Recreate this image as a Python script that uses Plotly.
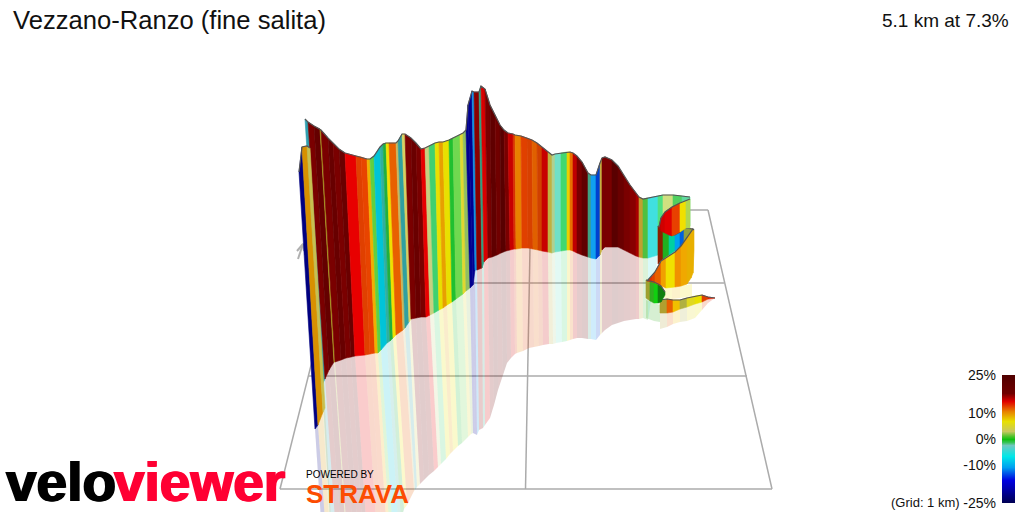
import plotly.graph_objects as go

TITULO = "Vezzano-Ranzo (fine salita)"
RESUMO = "5.1 km at 7.3%"
FONTE = "Liberation Sans"

# parede principal: borda de cada faixa (topo, base, limite do reflexo)
parede_topo_x = [305, 308, 314, 320, 321, 328, 333, 339, 345, 356, 361, 367, 370, 374, 380, 383, 386, 389, 396, 398,
                 402, 405, 411, 416, 421, 425, 429, 435, 439, 443, 449, 453, 460, 463, 466, 468, 472, 474, 479, 481,
                 485, 490, 495, 500, 504, 508, 513, 515, 521, 527, 532, 537, 542, 548, 552, 555, 561, 567, 570, 573,
                 577, 582, 588, 591, 596, 600, 602, 605, 612, 618, 624, 630, 636, 639, 643, 648, 658, 663, 673, 682, 690]
parede_topo_y = [119, 122, 126, 129, 130, 138, 143, 149, 153, 156, 157, 159, 159, 156, 147, 144, 143, 143, 143, 141,
                 134, 134, 138, 143, 149, 148, 146, 143, 142, 142, 140, 138, 135, 133, 130, 105, 91, 92, 92, 86,
                 89, 105, 115, 125, 130, 133, 134, 135, 136, 138, 140, 143, 147, 152, 155, 154, 153, 152, 152, 153,
                 156, 162, 173, 175, 175, 163, 158, 157, 160, 166, 176, 185, 193, 197, 199, 198, 196, 195, 195, 196, 197]
parede_base_x = [322, 325, 329, 334, 335, 341, 346, 351, 355, 365, 370, 375, 378, 381, 387, 390, 393, 396, 403, 405,
                 409, 411, 416, 421, 426, 430, 434, 439, 443, 447, 452, 456, 463, 466, 470, 473, 475, 477, 482, 484,
                 488, 492, 497, 501, 506, 510, 514, 516, 522, 528, 533, 538, 542, 548, 552, 555, 561, 567, 570, 573,
                 577, 582, 588, 591, 596, 600, 602, 605, 612, 618, 624, 630, 636, 639, 643, 648, 658, 663, 673, 682, 690]
parede_base_y = [385, 379, 370, 362, 362, 360, 358, 357, 356, 355, 354, 353, 353, 350, 343, 341, 338, 335, 330, 328,
                 322, 319, 318, 317, 317, 315, 313, 310, 308, 305, 302, 299, 294, 291, 288, 285, 270, 270, 268, 262,
                 258, 257, 255, 253, 251, 250, 249, 249, 248, 248, 249, 250, 251, 252, 253, 252, 251, 250, 250, 251,
                 253, 255, 257, 258, 259, 255, 250, 247, 247, 247, 250, 253, 256, 257, 258, 258, 255, 250, 235, 230, 226]
reflexo_x = [330, 335, 340, 345, 346, 352, 357, 362, 366, 376, 381, 386, 389, 392, 398, 401, 404, 407, 414, 415,
             417, 420, 424, 429, 434, 438, 441, 446, 450, 453, 458, 462, 468, 471, 473, 475, 477, 479, 483, 485,
             490, 494, 498, 503, 507, 511, 515, 517, 523, 529, 534, 539, 543, 549, 553, 556, 562, 567, 570, 573,
             577, 582, 588, 591, 596, 600, 602, 605, 612, 618, 624, 630, 636, 639, 643, 648, 658, 663, 673, 682, 690]
reflexo_y = [520, 520, 520, 520, 520, 520, 520, 520, 520, 520, 520, 520, 520, 520, 520, 520, 509, 505, 491, 490,
             487, 484, 480, 475, 471, 467, 464, 459, 454, 451, 446, 443, 437, 434, 433, 434, 435, 430, 428, 425,
             418, 405, 390, 375, 363, 358, 354, 353, 351, 348, 347, 346, 345, 344, 344, 343, 342, 341, 340, 339,
             338, 338, 339, 339, 340, 335, 333, 330, 325, 323, 321, 320, 319, 319, 318, 320, 255, 250, 235, 230, 226]
parede_cores = ["#30a0b0", "#7a0000", "#650000", "#b0a820", "#7a0000", "#680000", "#7a0000", "#6a0000", "#e80000", "#e04000",
                "#e84400", "#f0b000", "#60d040", "#00c4d8", "#30b0a0", "#20b040", "#f0e000", "#e86000", "#c8b860", "#30a0a0",
                "#d8d060", "#7a0000", "#6a0000", "#7a0000", "#e80000", "#c8d080", "#40d070", "#e8e000", "#e8a000", "#e8e000",
                "#20c030", "#70d850", "#e0d830", "#90c060", "#000090", "#000090", "#1090e0", "#8a0000", "#30a080", "#d80000",
                "#7a0000", "#600000", "#700000", "#580000", "#7a0000", "#c80000", "#d83000", "#e88000", "#e04000", "#d84000",
                "#e06000", "#d04000", "#c80000", "#c0b040", "#b0d090", "#70e0c8", "#40d870", "#e8d000", "#e87000", "#c00000",
                "#7a0000", "#600000", "#40a080", "#10a0f0", "#0040d0", "#c8b040", "#7a0000", "#7a0000", "#5a0000", "#6a0000",
                "#7a0000", "#880000", "#a80000", "#c0a030", "#50c040", "#40e0e0", "#50e080", "#d0e080", "#50d060", "#60d8a0"]

# dobra da frente, lado esquerdo
dobra_topo_x = [299, 302, 307, 310]
dobra_topo_y = [172, 147, 146, 148]
dobra_base_x = [315, 318, 323, 325]
dobra_base_y = [429, 425, 412, 408]
dobra_reflexo_x = [321, 325, 329, 331]
dobra_reflexo_y = [520, 520, 520, 520]
dobra_cores = ["#000080", "#d89000", "#c8c050"]

# curva final: painel, faixa do meio, fita amarela, laco verde e cauda
painel_x = [659, 661, 665, 672, 680, 686, 690]
painel_topo = [227, 218, 212, 207, 203, 201, 199]
painel_base = [227, 231, 233, 236, 232, 228, 228]
painel_cores = ["#c00000", "#d00000", "#e00000", "#e84000", "#f0e000", "#b0d850"]

faixa_x = [658, 663, 669, 675, 680, 684, 693]
faixa_topo = [226, 231, 235, 235, 232, 228, 229]
faixa_base = [264, 259, 255, 251, 247, 243, 232]
faixa_cores = ["#8a2000", "#20b020", "#00d0a0", "#00a0f0", "#0060e0", "#90a040"]

fita_x = [647, 652, 655, 661, 666, 675, 681, 687, 691, 693, 694]
fita_topo = [281, 276, 272, 261, 258, 252, 246, 238, 232, 229, 230]
fita_base = [281, 282, 283, 286, 288, 287, 286, 284, 278, 273, 250]
fita_cores = ["#e03000", "#e04000", "#e86000", "#f0a000", "#f0e000", "#f09000", "#f0a800", "#e8b000", "#e8b000", "#e8b000"]

laco_x = [646, 650, 654, 658, 661, 665]
laco_topo = [280, 281, 282, 284, 286, 292]
laco_base = [298, 301, 303, 303, 302, 295]
laco_cores = ["#a0a030", "#30b020", "#10d010", "#108010", "#108010"]

cauda_x = [660, 667, 673, 680, 687, 695, 702, 708, 715]
cauda_topo = [300, 299, 300, 300, 298, 296, 295, 297, 298]
cauda_base = [313, 313, 312, 309, 307, 304, 302, 299, 298]
cauda_cores = ["#b0a030", "#e86000", "#f0c000", "#b0b040", "#e0d820", "#e8e000", "#e04000", "#e02000"]

laco_reflexo_x = [646, 654, 660]
laco_reflexo_topo = [300, 303, 305]
laco_reflexo_base = [318, 321, 322]
laco_reflexo_cores = ["#30b020", "#30b020"]

cauda_reflexo_base = [329, 327, 324, 322, 321, 318, 310, 303, 298]

fita_reflexo_x = [664, 672, 680, 692]
fita_reflexo_topo = [288, 287, 286, 284]
fita_reflexo_base = [298, 299, 298, 296]
fita_reflexo_cores = ["#f0e000", "#f0c000", "#f0e000"]

# grade do piso e seta norte
grade_linhas = [
    ([280, 772], [489, 489]),
    ([772, 708], [489, 210]),
    ([708, 688], [210, 210]),
    ([280, 340], [489, 250]),
    ([308, 747], [376, 376]),
    ([473, 724], [283, 283]),
    ([525.5, 530], [489, 248]),
]
seta_x = [297, 303, 304]
seta_y = [251, 244, 251]
haste_x = [303, 298]
haste_y = [244, 259]

# legenda de inclinacao
legenda_valores = [-25, -22, -19, -16, -13, -11, -9, -6.5, -4, -2.5, -1, 0, 1, 3, 5, 7, 9, 11, 13, 15, 18, 21, 25]
legenda_escala = [
    [0.00, "#000050"], [0.18, "#0000e0"], [0.28, "#00a0f0"], [0.37, "#00e8e8"],
    [0.45, "#70c8c0"], [0.50, "#10c010"], [0.56, "#c8c860"], [0.64, "#e8e000"],
    [0.72, "#e88000"], [0.80, "#e00000"], [0.86, "#700000"], [1.00, "#500000"],
]
legenda_ticks = [25, 10, 0, -10, -25]
legenda_rotulos = ["25%", "10%", "0%", "-10%", "-25%"]


def _rgba(cor: str, alfa: float) -> str:
    """Converte #rrggbb em rgba com a transparencia pedida."""
    r, g, b = int(cor[1:3], 16), int(cor[3:5], 16), int(cor[5:7], 16)
    return f"rgba({r},{g},{b},{alfa})"


def adicionar_faixas(fig, x_a, y_a, x_b, y_b, cores, alfa=None):
    """Desenha uma faixa preenchida entre cada par de bordas."""
    for i, cor in enumerate(cores):
        if y_a[i] == y_b[i] and y_a[i + 1] == y_b[i + 1]:
            continue
        preenchimento = cor if alfa is None else _rgba(cor, alfa)
        fig.add_trace(
            go.Scatter(
                x=[x_a[i], x_a[i + 1], x_b[i + 1], x_b[i], x_a[i]],
                y=[y_a[i], y_a[i + 1], y_b[i + 1], y_b[i], y_a[i]],
                mode="lines",
                fill="toself",
                fillcolor=preenchimento,
                line={"color": preenchimento, "width": 0.6 if alfa is None else 0},
                hoverinfo="skip",
            )
        )


def adicionar_contorno(fig, x, y):
    """Linha escura na borda superior da fita."""
    fig.add_trace(
        go.Scatter(x=x, y=y, mode="lines", line={"color": "#555555", "width": 1.2}, hoverinfo="skip")
    )


def texto(fig, x, y, conteudo, tamanho, cor="#111111", ancora="left", negrito=False, sombra="none"):
    """Texto posicionado nas coordenadas do eixo principal."""
    fig.add_annotation(
        x=x, y=y, text=conteudo, showarrow=False, xanchor=ancora, yanchor="middle",
        xref="x", yref="y", borderpad=0,
        font={"family": FONTE, "size": tamanho, "color": cor, "weight": 700 if negrito else 400, "shadow": sombra},
    )


fig = go.Figure()

for gx, gy in grade_linhas:
    fig.add_trace(go.Scatter(x=gx, y=gy, mode="lines", line={"color": "#ababab", "width": 1.5}, hoverinfo="skip"))
fig.add_trace(go.Scatter(x=seta_x, y=seta_y, mode="lines", line={"color": "#b0b0b0", "width": 2}, hoverinfo="skip"))
fig.add_trace(go.Scatter(x=haste_x, y=haste_y, mode="lines", line={"color": "#b0b0b0", "width": 2}, hoverinfo="skip"))

# reflexos primeiro, a grade aparece por baixo
adicionar_faixas(fig, parede_base_x, parede_base_y, reflexo_x, reflexo_y, parede_cores, 0.2)
adicionar_faixas(fig, dobra_base_x, dobra_base_y, dobra_reflexo_x, dobra_reflexo_y, dobra_cores, 0.2)
adicionar_faixas(fig, laco_reflexo_x, laco_reflexo_topo, laco_reflexo_x, laco_reflexo_base, laco_reflexo_cores, 0.2)
adicionar_faixas(fig, fita_reflexo_x, fita_reflexo_topo, fita_reflexo_x, fita_reflexo_base, fita_reflexo_cores, 0.2)
adicionar_faixas(fig, cauda_x, cauda_base, cauda_x, cauda_reflexo_base, cauda_cores, 0.2)

adicionar_faixas(fig, parede_topo_x, parede_topo_y, parede_base_x, parede_base_y, parede_cores)
adicionar_contorno(fig, parede_topo_x, parede_topo_y)
adicionar_faixas(fig, dobra_topo_x, dobra_topo_y, dobra_base_x, dobra_base_y, dobra_cores)
adicionar_contorno(fig, dobra_topo_x, dobra_topo_y)

adicionar_faixas(fig, cauda_x, cauda_topo, cauda_x, cauda_base, cauda_cores)
adicionar_contorno(fig, cauda_x, cauda_topo)
adicionar_faixas(fig, laco_x, laco_topo, laco_x, laco_base, laco_cores)
adicionar_faixas(fig, faixa_x, faixa_topo, faixa_x, faixa_base, faixa_cores)
adicionar_contorno(fig, faixa_x, faixa_topo)
adicionar_faixas(fig, painel_x, painel_topo, painel_x, painel_base, painel_cores)
adicionar_contorno(fig, painel_x, painel_topo)
adicionar_faixas(fig, fita_x, fita_topo, fita_x, fita_base, fita_cores)
adicionar_contorno(fig, fita_x, fita_topo)
adicionar_contorno(fig, laco_x, laco_topo)

fig.add_trace(
    go.Heatmap(
        x=[0, 1],
        y=legenda_valores,
        z=[[v, v] for v in legenda_valores],
        zmin=-25,
        zmax=25,
        colorscale=legenda_escala,
        showscale=False,
        zsmooth="best",
        xaxis="x2",
        yaxis="y2",
        hoverinfo="skip",
    )
)

texto(fig, 12, 20, TITULO, 25.6)
texto(fig, 1010, 20, RESUMO, 19, ancora="right")
texto(fig, 961, 502, "(Grid: 1 km)", 13, ancora="right")
texto(fig, 5, 482, "velo", 55, cor="#000000", negrito=True, sombra="1px 0 0 #000000, -1px 0 0 #000000")
texto(fig, 113, 482, "viewer", 55, cor="#ff0033", negrito=True, sombra="1px 0 0 #ff0033, -1px 0 0 #ff0033")
texto(fig, 305, 474, "POWERED BY", 10, cor="#000000")
texto(fig, 305, 494, "STRAVA", 26, cor="#fc4c02", negrito=True)

fig.update_layout(
    template="none",
    width=1024,
    height=512,
    margin={"l": 0, "r": 0, "t": 0, "b": 0, "pad": 0},
    paper_bgcolor="white",
    plot_bgcolor="rgba(0,0,0,0)",
    showlegend=False,
    xaxis={"range": [0, 1024], "visible": False, "domain": [0, 1], "automargin": False},
    yaxis={"range": [512, 0], "visible": False, "domain": [0, 1], "automargin": False},
    xaxis2={"range": [0, 1], "visible": False, "domain": [1002 / 1024, 1015 / 1024], "anchor": "y2", "automargin": False},
    yaxis2={
        "range": [-25, 25],
        "domain": [9 / 512, 137 / 512],
        "anchor": "x2",
        "side": "left",
        "automargin": False,
        "tickvals": legenda_ticks,
        "ticktext": legenda_rotulos,
        "tickfont": {"family": FONTE, "size": 14, "color": "#111111"},
        "ticklabelstandoff": 5,
        "showgrid": False,
        "zeroline": False,
        "showline": False,
        "ticks": "",
    },
)

fig.write_html(
    "out.html",
    config={"displayModeBar": False},
    post_script="document.body.style.margin = '0';",
)
